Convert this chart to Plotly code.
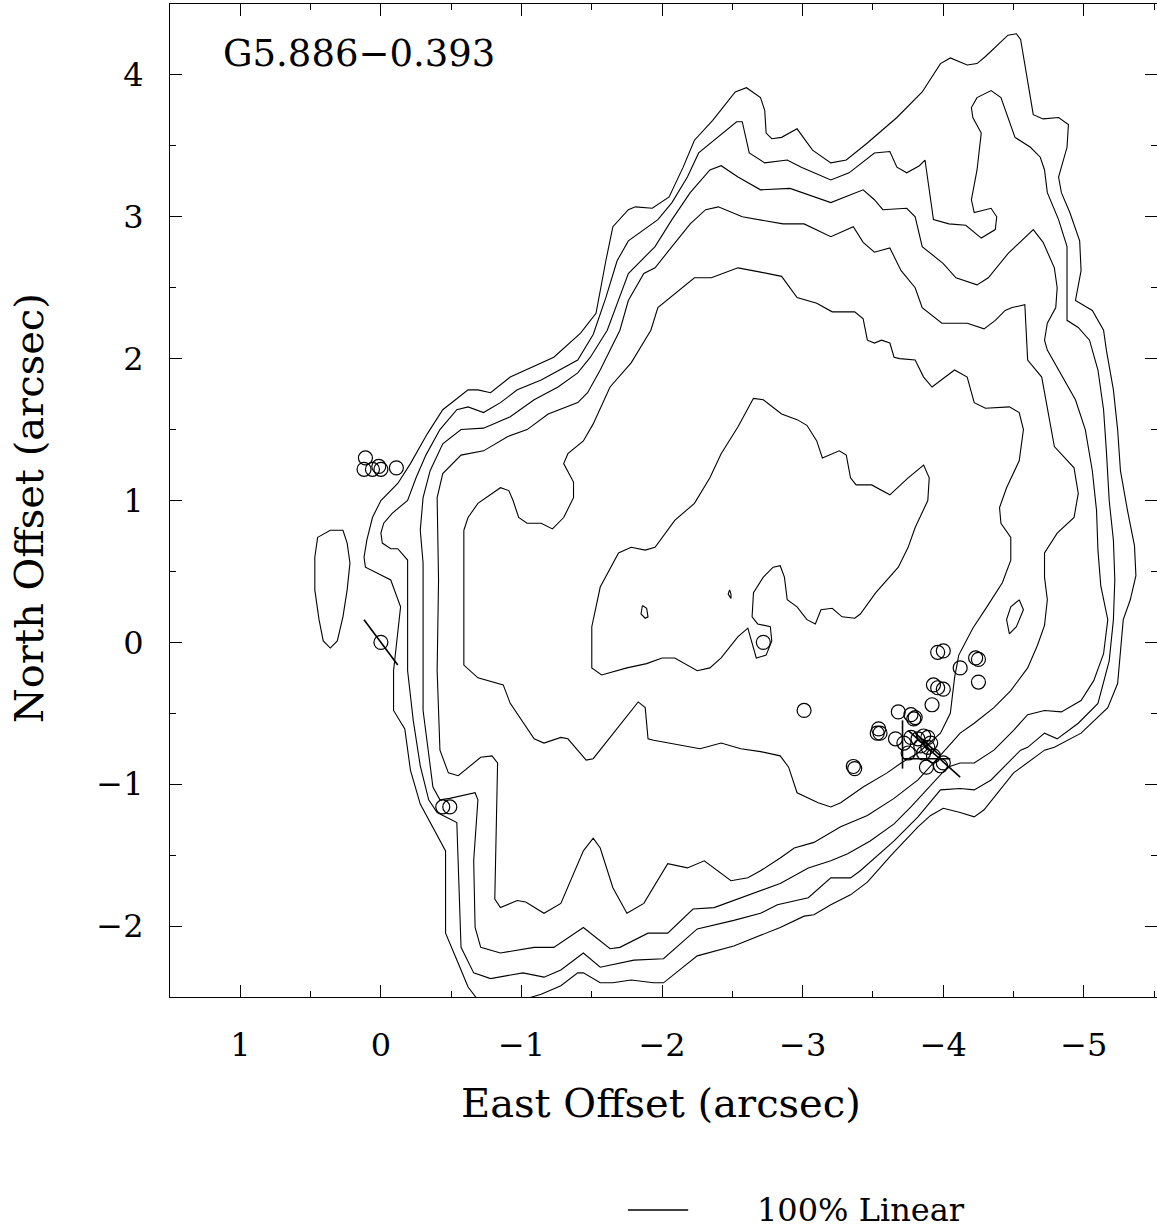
import plotly.graph_objects as go

FONT = "DejaVu Serif"

# ---------------- data (arcsec offsets) ----------------
source_name = "G5.886\u22120.393"
legend_label = "100% Linear"
x_title = "East Offset (arcsec)"
y_title = "North Offset (arcsec)"

# outermost contour (open, cut by the lower axis)
contour_1 = [(-0.69,-2.52),(-0.62,-2.43),(-0.57,-2.31),(-0.46,-2.05),(-0.46,-1.47),(-0.40,-1.36),(-0.28,-1.14),(-0.21,-0.90),(-0.17,-0.61),(-0.09,-0.48),
             (-0.09,-0.20),(-0.14,0.25),(-0.07,0.44),(0.11,0.53),(0.12,0.60),(0.10,0.72),(0.06,0.88),(0.00,1.00),(-0.12,1.12),(-0.21,1.26),
             (-0.33,1.47),(-0.44,1.64),(-0.62,1.78),(-0.69,1.78),(-0.78,1.76),(-0.92,1.87),(-1.23,2.01),(-1.42,2.18),(-1.53,2.32),(-1.60,2.69),
             (-1.65,2.93),(-1.76,3.05),(-1.81,3.07),(-1.93,3.06),(-2.05,3.14),(-2.15,3.35),(-2.23,3.54),(-2.36,3.68),(-2.52,3.88),(-2.60,3.91),
             (-2.70,3.84),(-2.73,3.75),(-2.74,3.59),(-2.78,3.55),(-2.85,3.56),(-2.96,3.62),(-3.07,3.47),(-3.20,3.38),(-3.31,3.40),(-3.46,3.52),
             (-3.67,3.70),(-3.85,3.88),(-3.98,4.08),(-4.05,4.12),(-4.12,4.09),(-4.17,4.07),(-4.24,4.08),(-4.30,4.13),(-4.46,4.28),(-4.52,4.29),
             (-4.55,4.25),(-4.59,4.01),(-4.64,3.72),(-4.71,3.69),(-4.82,3.70),(-4.89,3.65),(-4.88,3.49),(-4.82,3.28),(-4.84,3.17),(-4.90,3.03),
             (-4.97,2.83),(-4.98,2.62),(-4.94,2.41),(-5.06,2.34),(-5.14,2.20),(-5.16,2.06),(-5.21,1.78),(-5.24,1.50),(-5.26,1.21),(-5.31,0.93),
             (-5.36,0.68),(-5.37,0.47),(-5.33,0.30),(-5.28,0.16),(-5.26,-0.06),(-5.24,-0.29),(-5.17,-0.46),(-4.98,-0.64),(-4.79,-0.74),(-4.72,-0.76),
             (-4.50,-0.92),(-4.29,-1.18),(-4.22,-1.23),(-4.12,-1.20),(-4.00,-1.17),(-3.91,-1.22),(-3.82,-1.30),(-3.63,-1.50),(-3.46,-1.69),(-3.34,-1.78),
             (-3.20,-1.85),(-3.08,-1.92),(-3.01,-1.93),(-2.84,-2.01),(-2.51,-2.14),(-2.25,-2.21),(-2.01,-2.40),(-1.94,-2.40),(-1.78,-2.38),(-1.65,-2.40),
             (-1.56,-2.40),(-1.44,-2.33),(-1.40,-2.33),(-1.28,-2.42),(-1.14,-2.48),(-1.01,-2.52)]

contour_2 = [(-0.19,-0.20),(-0.19,0.58),(-0.12,0.66),(-0.07,0.66),(-0.01,0.70),(0.00,0.77),(-0.02,0.84),(-0.08,0.91),(-0.19,1.00),(-0.25,1.16),
             (-0.32,1.32),(-0.42,1.50),(-0.54,1.64),(-0.62,1.66),(-0.73,1.62),(-0.85,1.69),(-0.97,1.78),(-1.14,1.85),(-1.40,1.99),(-1.51,2.17),
             (-1.60,2.43),(-1.68,2.69),(-1.76,2.83),(-1.97,2.98),(-2.07,3.10),(-2.18,3.28),(-2.26,3.45),(-2.42,3.58),(-2.53,3.67),(-2.57,3.67),
             (-2.62,3.45),(-2.73,3.38),(-2.89,3.40),(-2.99,3.35),(-3.20,3.26),(-3.33,3.31),(-3.51,3.45),(-3.62,3.46),(-3.67,3.35),(-3.74,3.31),
             (-3.83,3.36),(-3.87,3.40),(-3.90,3.17),(-3.93,2.98),(-4.04,2.95),(-4.16,2.94),(-4.27,2.85),(-4.37,2.91),(-4.38,3.00),(-4.34,3.06),
             (-4.22,3.03),(-4.20,3.12),(-4.24,3.33),(-4.27,3.59),(-4.21,3.70),(-4.20,3.77),(-4.24,3.84),(-4.34,3.89),(-4.41,3.84),(-4.47,3.68),
             (-4.51,3.56),(-4.62,3.49),(-4.69,3.42),(-4.72,3.33),(-4.74,3.17),(-4.82,2.98),(-4.88,2.79),(-4.88,2.50),(-4.88,2.27),(-4.96,2.22),
             (-5.04,2.13),(-5.10,1.92),(-5.14,1.64),(-5.16,1.35),(-5.18,1.00),(-5.21,0.72),(-5.22,0.44),(-5.21,0.16),(-5.18,-0.13),(-5.10,-0.43),
             (-4.96,-0.57),(-4.81,-0.68),(-4.72,-0.64),(-4.60,-0.74),(-4.55,-0.76),(-4.46,-0.85),(-4.34,-0.97),(-4.22,-1.04),(-4.12,-1.03),(-3.98,-1.04),
             (-3.82,-1.23),(-3.65,-1.40),(-3.41,-1.61),(-3.34,-1.66),(-3.20,-1.66),(-3.04,-1.80),(-2.82,-1.85),(-2.70,-1.91),(-2.51,-1.96),(-2.25,-2.02),
             (-2.01,-2.23),(-1.80,-2.24),(-1.56,-2.29),(-1.44,-2.19),(-1.28,-2.31),(-1.16,-2.36),(-1.01,-2.33),(-0.78,-2.37),(-0.66,-2.33),(-0.57,-2.15),
             (-0.55,-1.54),(-0.54,-1.27),(-0.40,-1.20),(-0.34,-1.11),(-0.28,-0.87),(-0.23,-0.55)]

contour_3 = [(-0.30,-0.20),(-0.30,0.56),(-0.28,0.79),(-0.30,1.02),(-0.35,1.21),(-0.44,1.40),(-0.57,1.50),(-0.73,1.51),(-0.92,1.59),(-1.09,1.71),
             (-1.26,1.80),(-1.40,1.90),(-1.49,2.01),(-1.61,2.20),(-1.76,2.60),(-1.95,2.79),(-2.07,2.98),(-2.20,3.17),(-2.34,3.33),(-2.42,3.36),
             (-2.54,3.28),(-2.70,3.19),(-2.91,3.20),(-3.20,3.10),(-3.43,3.19),(-3.51,3.12),(-3.57,3.05),(-3.74,3.06),(-3.80,3.00),(-3.85,2.79),
             (-4.00,2.67),(-4.09,2.57),(-4.24,2.52),(-4.32,2.57),(-4.46,2.74),(-4.64,2.91),(-4.71,2.82),(-4.79,2.64),(-4.81,2.50),(-4.80,2.36),
             (-4.74,2.25),(-4.72,2.13),(-4.74,2.06),(-4.84,1.88),(-4.94,1.71),(-5.01,1.50),(-5.06,1.21),(-5.09,0.93),(-5.10,0.65),(-5.12,0.40),
             (-5.17,0.16),(-5.14,-0.08),(-5.07,-0.27),(-4.98,-0.41),(-4.84,-0.49),(-4.72,-0.48),(-4.60,-0.51),(-4.50,-0.62),(-4.36,-0.76),(-4.22,-0.85),
             (-4.12,-0.85),(-4.03,-0.88),(-3.91,-1.01),(-3.77,-1.16),(-3.65,-1.28),(-3.48,-1.40),(-3.32,-1.49),(-3.20,-1.54),(-3.04,-1.59),(-2.84,-1.70),
             (-2.37,-1.87),(-2.22,-1.88),(-2.04,-2.05),(-1.90,-2.05),(-1.70,-2.15),(-1.63,-2.16),(-1.44,-2.01),(-1.23,-2.15),(-1.09,-2.15),(-0.85,-2.19),
             (-0.71,-2.15),(-0.67,-2.01),(-0.66,-1.54),(-0.69,-1.11),(-0.67,-1.06),(-0.49,-1.10),(-0.42,-1.11),(-0.37,-1.02),(-0.30,-0.48)]

contour_4 = [(-0.40,-0.20),(-0.41,0.44),(-0.40,1.02),(-0.44,1.19),(-0.57,1.32),(-0.73,1.35),(-0.90,1.45),(-1.04,1.50),(-1.19,1.61),(-1.40,1.69),
             (-1.47,1.76),(-1.56,1.92),(-1.70,2.20),(-1.76,2.41),(-1.87,2.60),(-1.95,2.64),(-2.07,2.79),(-2.20,2.95),(-2.31,3.05),(-2.40,3.07),
             (-2.57,3.00),(-2.86,2.95),(-3.01,2.95),(-3.15,2.88),(-3.20,2.86),(-3.36,2.93),(-3.43,2.82),(-3.51,2.75),(-3.62,2.78),(-3.70,2.62),
             (-3.80,2.50),(-3.85,2.36),(-3.99,2.25),(-4.06,2.25),(-4.17,2.25),(-4.29,2.21),(-4.37,2.27),(-4.44,2.34),(-4.49,2.36),(-4.58,2.38),
             (-4.59,2.22),(-4.60,1.99),(-4.70,1.87),(-4.72,1.76),(-4.76,1.52),(-4.79,1.38),(-4.93,1.23),(-4.96,1.05),(-4.93,0.88),(-4.81,0.77),
             (-4.72,0.63),(-4.72,0.46),(-4.74,0.30),(-4.72,0.12),(-4.67,-0.02),(-4.60,-0.18),(-4.48,-0.34),(-4.36,-0.46),(-4.22,-0.57),(-4.12,-0.64),
             (-4.03,-0.74),(-3.93,-0.85),(-3.82,-0.97),(-3.65,-1.10),(-3.46,-1.22),(-3.27,-1.30),(-3.08,-1.41),(-2.94,-1.45),(-2.84,-1.52),(-2.70,-1.61),
             (-2.61,-1.66),(-2.49,-1.68),(-2.30,-1.54),(-2.18,-1.59),(-2.04,-1.56),(-1.87,-1.84),(-1.75,-1.91),(-1.65,-1.73),(-1.56,-1.45),(-1.51,-1.38),
             (-1.44,-1.47),(-1.28,-1.84),(-1.16,-1.91),(-1.03,-1.83),(-0.97,-1.82),(-0.85,-1.87),(-0.81,-1.81),(-0.83,-0.85),(-0.79,-0.80),(-0.71,-0.81),
             (-0.55,-0.94),(-0.48,-0.92),(-0.42,-0.76)]

contour_5 = [(-0.59,0.79),(-0.62,0.88),(-0.69,0.98),(-0.85,1.09),(-0.91,1.07),(-0.94,1.00),(-0.98,0.88),(-1.04,0.84),(-1.14,0.84),(-1.22,0.80),
             (-1.30,0.88),(-1.37,1.02),(-1.37,1.13),(-1.30,1.26),(-1.33,1.33),(-1.44,1.42),(-1.51,1.54),(-1.63,1.80),(-1.78,1.97),(-1.92,2.20),
             (-1.97,2.36),(-2.23,2.57),(-2.35,2.57),(-2.54,2.64),(-2.70,2.61),(-2.85,2.58),(-2.96,2.43),(-3.10,2.39),(-3.21,2.33),(-3.37,2.33),
             (-3.43,2.28),(-3.46,2.13),(-3.51,2.11),(-3.56,2.13),(-3.62,2.11),(-3.65,2.01),(-3.69,2.00),(-3.80,1.99),(-3.86,1.87),(-3.92,1.80),
             (-4.08,1.92),(-4.17,1.87),(-4.22,1.69),(-4.30,1.65),(-4.47,1.66),(-4.54,1.62),(-4.57,1.50),(-4.54,1.28),(-4.45,1.09),(-4.40,0.95),
             (-4.41,0.84),(-4.48,0.74),(-4.48,0.58),(-4.42,0.42),(-4.31,0.25),(-4.21,0.10),(-4.11,-0.09),(-4.08,-0.25),(-4.05,-0.50),(-3.98,-0.64),
             (-3.82,-0.78),(-3.70,-0.85),(-3.60,-0.92),(-3.43,-1.02),(-3.27,-1.13),(-3.20,-1.16),(-3.11,-1.13),(-2.96,-1.06),(-2.90,-0.88),(-2.84,-0.80),
             (-2.70,-0.77),(-2.56,-0.75),(-2.42,-0.71),(-2.27,-0.75),(-1.94,-0.69),(-1.90,-0.68),(-1.88,-0.46),(-1.83,-0.42),(-1.51,-0.82),(-1.46,-0.83),
             (-1.33,-0.68),(-1.28,-0.67),(-1.16,-0.71),(-1.09,-0.68),(-0.92,-0.43),(-0.87,-0.30),(-0.69,-0.25),(-0.59,-0.16)]

contour_6 = [(-2.65,1.72),(-2.72,1.71),(-2.85,1.61),(-2.96,1.57),(-3.03,1.53),(-3.10,1.42),(-3.14,1.30),(-3.26,1.35),(-3.31,1.32),(-3.34,1.16),
             (-3.38,1.11),(-3.49,1.11),(-3.62,1.04),(-3.75,1.16),(-3.86,1.25),(-3.90,1.16),(-3.89,1.00),(-3.80,0.81),(-3.75,0.67),(-3.68,0.53),
             (-3.52,0.35),(-3.41,0.20),(-3.37,0.17),(-3.28,0.18),(-3.21,0.24),(-3.13,0.23),(-3.09,0.13),(-3.03,0.16),(-2.96,0.25),(-2.89,0.30),
             (-2.87,0.46),(-2.84,0.54),(-2.79,0.53),(-2.72,0.46),(-2.65,0.35),(-2.64,0.18),(-2.68,0.13),(-2.77,0.11),(-2.78,0.01),(-2.74,-0.09),
             (-2.67,-0.11),(-2.64,-0.01),(-2.61,0.10),(-2.54,0.04),(-2.42,-0.11),(-2.34,-0.18),(-2.25,-0.20),(-2.09,-0.11),(-2.00,-0.11),(-1.89,-0.15),
             (-1.75,-0.18),(-1.57,-0.23),(-1.50,-0.18),(-1.50,0.11),(-1.56,0.39),(-1.69,0.63),(-1.78,0.67),(-1.88,0.65),(-1.95,0.67),(-2.09,0.86),
             (-2.23,0.98),(-2.34,1.16),(-2.42,1.33),(-2.54,1.52)]

island_west = [(0.45,0.74),(0.36,0.79),(0.27,0.79),(0.24,0.70),(0.22,0.56),(0.24,0.37),(0.27,0.18),(0.31,0.01),(0.36,-0.04),(0.41,0.01),
               (0.44,0.16),(0.47,0.37),(0.47,0.60)]
island_a = [(-1.86,0.26),(-1.89,0.24),(-1.90,0.18),(-1.88,0.17),(-1.85,0.20)]
island_b = [(-2.48,0.37),(-2.49,0.34),(-2.49,0.31),(-2.47,0.34)]
island_c = [(-4.54,0.30),(-4.57,0.23),(-4.52,0.11),(-4.47,0.06),(-4.45,0.16),(-4.48,0.25)]

closed_contours = [contour_2, contour_3, contour_4, contour_5, contour_6,
                   island_west, island_a, island_b, island_c]

# maser spot positions
spot_x = [0.11, 0.12, 0.06, 0.015, 0.00, -0.11, 0.00, -0.44, -0.49, -2.72, -3.01, -3.36, -3.37,
          -3.96, -4.00, -4.12, -4.23, -4.25, -4.25, -3.93, -3.96, -4.00, -3.92, -3.68,
          -3.77, -3.79, -3.80, -3.54, -3.55, -3.53, -3.66,
          -3.72, -3.77, -3.82, -3.86, -3.89, -3.84, -3.89, -3.91, -3.75, -3.86, -3.93, -3.88, -3.98, -4.00]
spot_y = [1.30, 1.22, 1.22, 1.24, 1.22, 1.23, 0.00, -1.16, -1.16, 0.00, -0.48, -0.875, -0.89,
          -0.07, -0.06, -0.18, -0.11, -0.12, -0.28, -0.30, -0.32, -0.33, -0.44, -0.49,
          -0.51, -0.54, -0.53, -0.61, -0.64, -0.64, -0.68,
          -0.71, -0.67, -0.68, -0.66, -0.67, -0.73, -0.74, -0.71, -0.78, -0.78, -0.80, -0.88, -0.87, -0.85]

# polarization vectors: (x_start, y_start, x_end, y_end)
vectors = [(0.12, 0.16, -0.12, -0.16),
           (-3.71, -0.55, -3.71, -0.89),
           (-3.75, -0.62, -4.12, -0.95),
           (-3.72, -0.82, -4.05, -0.82),
           (-3.80, -0.64, -3.98, -0.80)]

# ---------------- figure ----------------
fig = go.Figure()
line_style = dict(color="black", width=1.1)

fig.add_trace(go.Scatter(x=[p[0] for p in contour_1], y=[p[1] for p in contour_1],
                         mode="lines", line=line_style, hoverinfo="skip", showlegend=False))
for c in closed_contours:
    pts = c + c[:1]
    fig.add_trace(go.Scatter(x=[p[0] for p in pts], y=[p[1] for p in pts],
                             mode="lines", line=line_style, hoverinfo="skip", showlegend=False))

fig.add_trace(go.Scatter(x=spot_x, y=spot_y, mode="markers",
                         marker=dict(symbol="circle-open", size=14, color="black",
                                     line=dict(color="black", width=1.2)),
                         hoverinfo="skip", showlegend=False, cliponaxis=True))

vx, vy = [], []
for x0, y0, x1, y1 in vectors:
    vx += [x0, x1, None]
    vy += [y0, y1, None]
fig.add_trace(go.Scatter(x=vx, y=vy, mode="lines", line=dict(color="black", width=1.6),
                         hoverinfo="skip", showlegend=False))

axis_common = dict(showline=True, linecolor="black", linewidth=1.2, mirror="ticks",
                   ticks="inside", ticklen=12, tickwidth=1, tickcolor="black",
                   showgrid=False, zeroline=False, dtick=1,
                   tickfont=dict(family=FONT, size=32, color="black"),
                   minor=dict(dtick=0.5, ticks="inside", ticklen=6, tickwidth=1, tickcolor="black"))

fig.update_xaxes(range=[1.5, -5.52], tick0=0, ticklabelstandoff=19, **axis_common)
fig.update_yaxes(range=[-2.5, 4.5], tick0=0, ticklabelstandoff=19, **axis_common)

fig.update_layout(width=1157, height=1230, margin=dict(l=170, r=0, t=4, b=233),
                  plot_bgcolor="white", paper_bgcolor="white", showlegend=False)

fig.add_annotation(text=source_name, x=1.14, y=4.15, xref="x", yref="y",
                   xanchor="left", yanchor="middle", showarrow=False,
                   font=dict(family=FONT, size=37, color="black"))
fig.add_annotation(text=x_title, x=0.497, y=-0.107, xref="paper", yref="paper",
                   xanchor="center", yanchor="middle", showarrow=False,
                   font=dict(family=FONT, size=40, color="black"))
fig.add_annotation(text=y_title, x=-0.142, y=0.492, xref="paper", yref="paper",
                   xanchor="center", yanchor="middle", showarrow=False, textangle=-90,
                   font=dict(family=FONT, size=40, color="black"))
fig.add_annotation(text=legend_label, x=0.593, y=-0.2145, xref="paper", yref="paper",
                   xanchor="left", yanchor="middle", showarrow=False,
                   font=dict(family=FONT, size=32, color="black"))
fig.add_shape(type="line", xref="paper", yref="paper", x0=0.464, x1=0.525,
              y0=-0.2145, y1=-0.2145, line=dict(color="black", width=1.6))

fig.write_html("out.html")
